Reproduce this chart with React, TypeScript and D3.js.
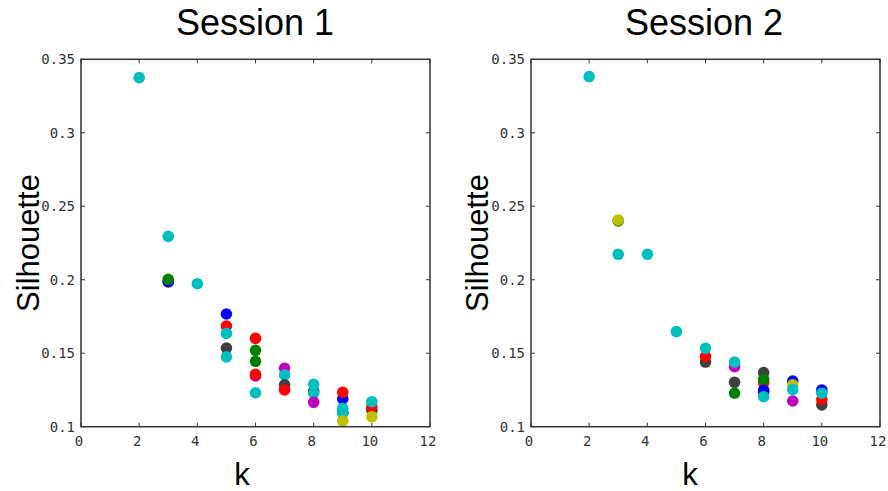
import React from 'react';
import * as d3 from 'd3';

// ---- data ----
const colorKeys = ['b', 'g', 'r', 'c', 'm', 'y', 'k'];
const colorHex = ['#0000ff', '#008000', '#ff0000', '#00bfbf', '#bf00bf', '#bfbf00', '#404040'];

const xTicks = [0, 2, 4, 6, 8, 10, 12];
const yTicks = [0.1, 0.15, 0.2, 0.25, 0.3, 0.35];
const yTickLabels = ['0.1', '0.15', '0.2', '0.25', '0.3', '0.35'];

const sessionTitles = ['Session 1', 'Session 2'];

// Session 1 (k, silhouette, colour key), in drawing order
const s1K = [2, 3, 3, 3, 3, 4, 5, 5, 5, 5, 5, 6, 6, 6, 6, 6, 6, 7, 7, 7, 7, 8, 8, 8, 8, 9, 9, 9, 9, 9, 9, 10, 10, 10, 10];
const s1Sil = [0.3375, 0.1985, 0.1988, 0.2003, 0.2295, 0.1973, 0.1767, 0.1685, 0.1635, 0.1535, 0.1475, 0.1601, 0.152, 0.1445, 0.1345, 0.1356, 0.1231, 0.1397, 0.1352, 0.1285, 0.125, 0.124, 0.1227, 0.1289, 0.1166, 0.119, 0.1234, 0.1098, 0.1091, 0.1125, 0.1039, 0.1112, 0.1135, 0.1068, 0.117];
const s1Col = ['c', 'k', 'b', 'g', 'c', 'c', 'b', 'r', 'c', 'k', 'c', 'r', 'g', 'g', 'm', 'r', 'c', 'm', 'c', 'k', 'r', 'k', 'c', 'c', 'm', 'b', 'r', 'k', 'c', 'c', 'y', 'k', 'r', 'y', 'c'];

// Session 2
const s2K = [2, 3, 3, 3, 4, 5, 6, 6, 6, 7, 7, 7, 7, 8, 8, 8, 8, 8, 8, 9, 9, 9, 9, 10, 10, 10, 10];
const s2Sil = [0.3382, 0.24, 0.2407, 0.2173, 0.2173, 0.1647, 0.144, 0.1478, 0.1533, 0.1408, 0.144, 0.1302, 0.1229, 0.1368, 0.13, 0.1322, 0.1232, 0.1248, 0.1204, 0.131, 0.1285, 0.1175, 0.1252, 0.1148, 0.1185, 0.125, 0.1228];
const s2Col = ['c', 'g', 'y', 'c', 'c', 'c', 'k', 'r', 'c', 'm', 'c', 'k', 'g', 'k', 'r', 'g', 'm', 'b', 'c', 'b', 'y', 'm', 'c', 'k', 'r', 'b', 'c'];

const sessions = [
  { k: s1K, sil: s1Sil, col: s1Col },
  { k: s2K, sil: s2Sil, col: s2Col },
];

// ---- layout ----
const W = 888;
const H = 491;
const panels = [
  { left: 81, right: 430, titleX: 255, labelX: 39, kX: 242 },
  { left: 531, right: 880, titleX: 704, labelX: 488, kX: 690 },
];
const TOP = 59.3;
const BOTTOM = 426.7;
const AXIS = '#333333';
const MONO = '"DejaVu Sans Mono", monospace';
const SANS = '"Liberation Sans", Arial, sans-serif';

function Panel({ idx }: { idx: number }) {
  const p = panels[idx];
  const s = sessions[idx];
  const x = d3.scaleLinear().domain([0, 12]).range([p.left, p.right]);
  const y = d3.scaleLinear().domain([0.1, 0.35]).range([BOTTOM, TOP]);
  const tl = 4;
  return (
    <g>
      <text x={p.titleX} y={35} textAnchor="middle" fontFamily={SANS} fontSize={36} fill="#000">
        {sessionTitles[idx]}
      </text>
      <text
        transform={`translate(${p.labelX},${(TOP + BOTTOM) / 2}) rotate(-90)`}
        textAnchor="middle"
        fontFamily={SANS}
        fontSize={31}
        fill="#000"
      >
        Silhouette
      </text>
      <text x={p.kX} y={485} textAnchor="middle" fontFamily={SANS} fontSize={31} fill="#000">
        k
      </text>
      {s.k.map((kv, i) => (
        <circle
          key={i}
          cx={x(kv)}
          cy={y(s.sil[i])}
          r={5.8}
          fill={colorHex[colorKeys.indexOf(s.col[i])]}
        />
      ))}
      <rect
        x={p.left}
        y={TOP}
        width={p.right - p.left}
        height={BOTTOM - TOP}
        fill="none"
        stroke={AXIS}
        strokeWidth={1.5}
      />
      {xTicks.map((t) => (
        <g key={'x' + t}>
          <line x1={x(t)} x2={x(t)} y1={BOTTOM} y2={BOTTOM - tl} stroke={AXIS} strokeWidth={1} />
          <line x1={x(t)} x2={x(t)} y1={TOP} y2={TOP + tl} stroke={AXIS} strokeWidth={1} />
          <text x={x(t) - 2} y={446} textAnchor="middle" fontFamily={MONO} fontSize={14} fill={AXIS}>
            {String(t)}
          </text>
        </g>
      ))}
      {yTicks.map((t, i) => (
        <g key={'y' + t}>
          <line x1={p.left} x2={p.left + tl} y1={y(t)} y2={y(t)} stroke={AXIS} strokeWidth={1} />
          <line x1={p.right} x2={p.right - tl} y1={y(t)} y2={y(t)} stroke={AXIS} strokeWidth={1} />
          <text x={p.left - 6} y={y(t) + 5} textAnchor="end" fontFamily={MONO} fontSize={14} fill={AXIS}>
            {yTickLabels[i]}
          </text>
        </g>
      ))}
    </g>
  );
}

export default function App() {
  return (
    <svg
      width={W}
      height={H}
      style={{ position: 'absolute', left: 0, top: 0, display: 'block', background: '#fff' }}
    >
      <rect width={W} height={H} fill="#fff" />
      <Panel idx={0} />
      <Panel idx={1} />
    </svg>
  );
}
